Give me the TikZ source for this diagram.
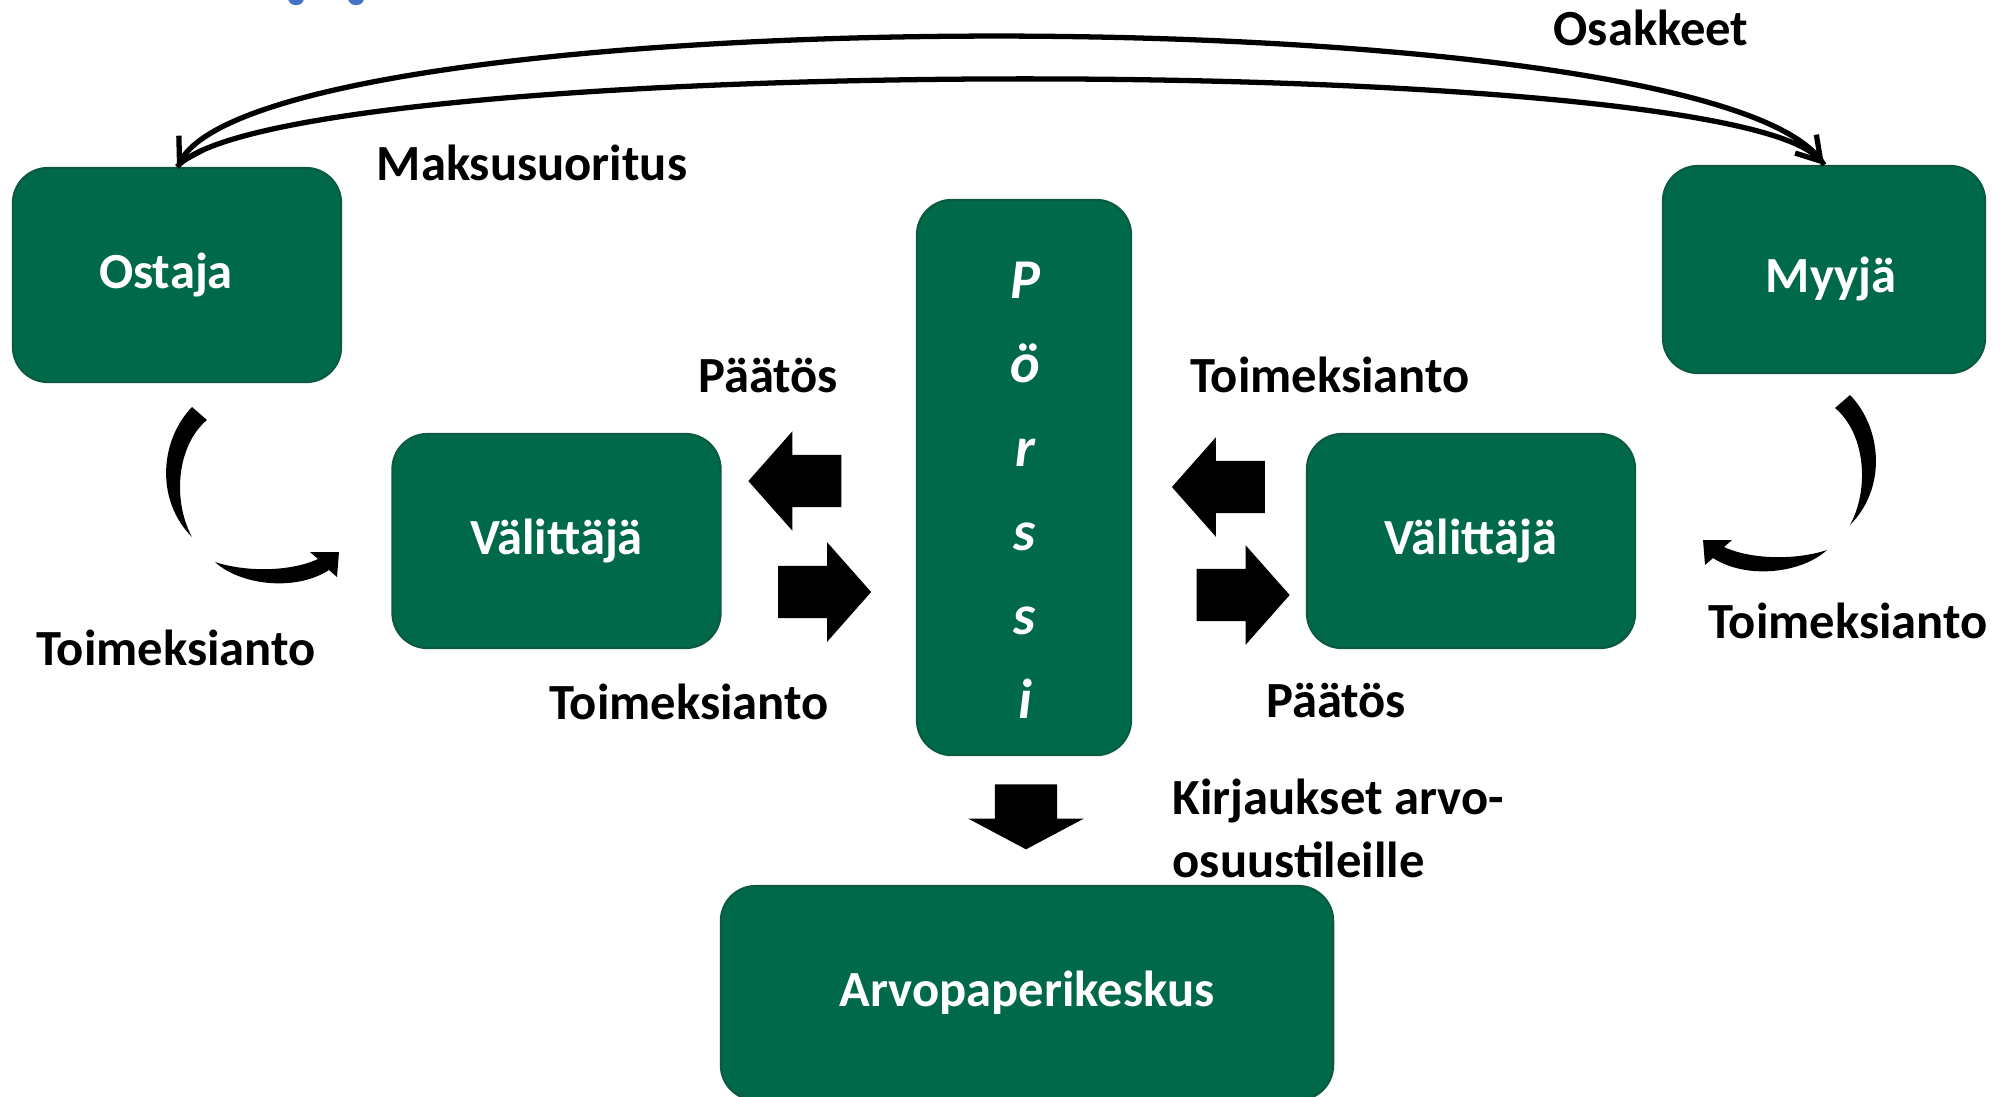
\documentclass[tikz,border=0pt]{standalone}
\usepackage{fontspec}
\setmainfont{Carlito}
\usetikzlibrary{arrows.meta,shapes.arrows}
\definecolor{boxgreen}{HTML}{00694A}
\definecolor{boxedge}{HTML}{0B5A40}
\definecolor{titleblue}{HTML}{4472C4}
\tikzset{
  every node/.style={font=\bfseries\fontsize{14.4}{17.9}\selectfont},
  party/.style={rectangle, rounded corners=0.35cm, fill=boxgreen, draw=boxedge,
    line width=0.6pt, text=white, inner sep=0pt, minimum width=3.28cm, minimum height=2.14cm},
  note/.style={inner sep=0pt, anchor=base},
  bourse letter/.style={text=white, font=\bfseries\itshape\fontsize{16}{19}\selectfont,
    inner sep=0pt, anchor=base},
  flow/.style={line width=1.5pt, -{Straight Barb[length=6.5pt,width=8pt]}},
  block/.style={single arrow, fill=black, inner xsep=0pt, inner ysep=0.255cm,
    minimum height=0.93cm, single arrow head extend=0.235cm, single arrow tip angle=97},
  block down/.style={single arrow, fill=black, inner xsep=0pt, inner ysep=0.305cm,
    minimum height=0.65cm, single arrow head extend=0.265cm, single arrow tip angle=124, rotate=-90}
}
\begin{document}
\begin{tikzpicture}[x=0.01cm, y=-0.01cm]
  \useasboundingbox (0,0) rectangle (2010,1096);
  % cut-off title
  \fill[titleblue, rounded corners=2pt] (288,-8) rectangle (304,5) (348,-8) rectangle (364,5);
  % parties
  \node[party] (ostaja) at (177,275) {\hspace*{-0.22cm}Ostaja};
  \node[party, minimum width=3.22cm, minimum height=2.07cm] (myyja) at (1824,269.5)
    {\hspace*{0.14cm}\raisebox{-0.09cm}[\height][\depth]{Myyjä}};
  \node[party] (valittaja-l) at (556.5,541) {Välittäjä};
  \node[party] (valittaja-r) at (1471,541) {Välittäjä};
  \node[party, minimum width=2.14cm, minimum height=5.55cm] (porssi) at (1024,477.5) {};
  \node[party, minimum width=6.12cm] (apk) at (1027,993) {Arvopaperikeskus};
  \foreach \l [count=\i] in {P,ö,r,s,s,i}
    \node[bourse letter] (letter-\i) at (1025,214+\i*84) {\l};
  % trade flows
  \draw[flow] (ostaja.north) .. controls +(100,-115) and +(-100,-115) .. (myyja.north);
  \draw[flow] (myyja.north) .. controls +(-100,-172) and +(100,-172) .. (ostaja.north);
  \node[note] (osakkeet) at (1651,45) {Osakkeet};
  \node[note] (maksu) at (532,180) {Maksusuoritus};
  % orders and decisions
  \node[block, rotate=180] (paatos-l) at (806.5,481) {};
  \node[block] (toimeksianto-l) at (813,592) {};
  \node[block, rotate=180] (toimeksianto-r) at (1230,487) {};
  \node[block] (paatos-r) at (1231.5,595) {};
  \node[block down] (kirjaus) at (1026,808.5) {};
  \foreach \sx/\dx/\dy in {1/0/0, -1/2042/-12} {
    \begin{scope}[shift={(\dx,\dy)}, xscale=\sx]
      \fill (192,407) .. controls (160,440) and (155,500) .. (192,537)
        .. controls (172,500) and (177,445) .. (207,420) -- cycle;
      \fill (215,562) .. controls (240,585) and (295,592) .. (329,570) -- (337,577) -- (339,552)
        -- (310,552) -- (318,559) .. controls (290,572) and (245,572) .. (215,562) -- cycle;
    \end{scope}
  }
  \node[note] (paatos-l-text) at (768,392) {Päätös};
  \node[note] (toim-r-text) at (1330,392) {Toimeksianto};
  \node[note] (toim-ostaja) at (176,665) {Toimeksianto};
  \node[note] (toim-l-text) at (689,719) {Toimeksianto};
  \node[note] (paatos-r-text) at (1336,717) {Päätös};
  \node[note] (toim-myyja) at (1848,638) {Toimeksianto};
  \node[align=left, anchor=west, inner sep=0pt] (kirjaukset) at (1172,828) {Kirjaukset arvo-\\osuustileille};
\end{tikzpicture}
\end{document}
